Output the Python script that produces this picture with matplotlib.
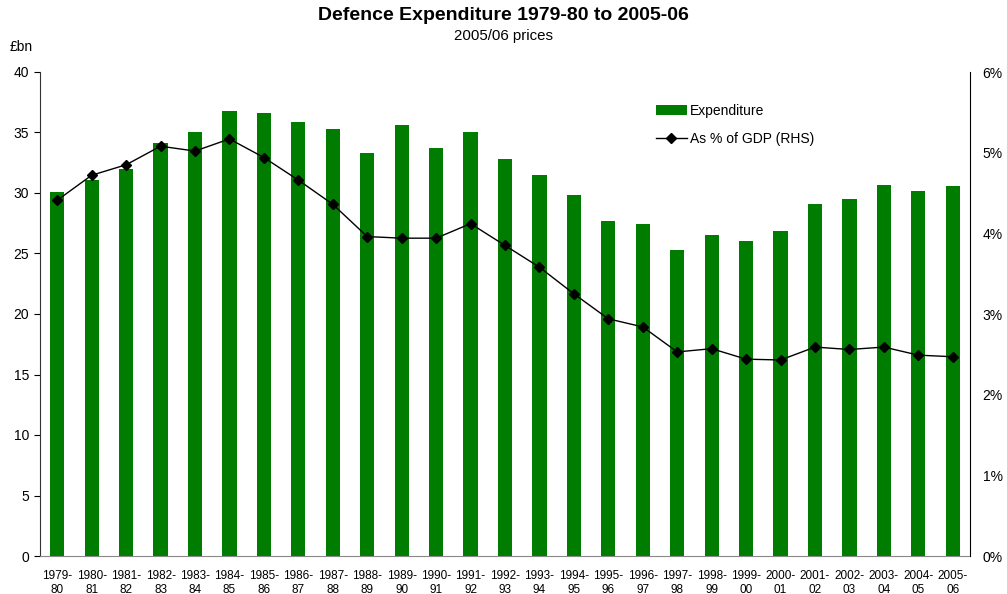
import matplotlib
matplotlib.use("Agg")
import matplotlib.pyplot as plt
from matplotlib.ticker import FuncFormatter

plt.rcParams['font.family'] = ['Liberation Sans', 'DejaVu Sans']

years = ["1979-\n80", "1980-\n81", "1981-\n82", "1982-\n83", "1983-\n84", "1984-\n85",
         "1985-\n86", "1986-\n87", "1987-\n88", "1988-\n89", "1989-\n90", "1990-\n91",
         "1991-\n92", "1992-\n93", "1993-\n94", "1994-\n95", "1995-\n96", "1996-\n97",
         "1997-\n98", "1998-\n99", "1999-\n00", "2000-\n01", "2001-\n02", "2002-\n03",
         "2003-\n04", "2004-\n05", "2005-\n06"]
expenditure = [30.1, 31.1, 32.0, 34.1, 35.0, 36.8, 36.6, 35.9, 35.3, 33.3, 35.6, 33.7,
               35.0, 32.8, 31.5, 29.8, 27.7, 27.4, 25.3, 26.5, 26.0, 26.9, 29.1, 29.5,
               30.7, 30.2, 30.6]
gdp_pct = [4.41, 4.72, 4.85, 5.08, 5.02, 5.17, 4.94, 4.66, 4.36, 3.96, 3.94, 3.94,
           4.12, 3.85, 3.58, 3.25, 2.94, 2.84, 2.53, 2.57, 2.44, 2.43, 2.59, 2.56,
           2.59, 2.49, 2.47]

fig = plt.figure(figsize=(10.07, 5.94), dpi=100)
ax = fig.add_axes([40/1007, 1-556/594, 930/1007, 484/594])
x = list(range(len(years)))
bars = ax.bar(x, expenditure, width=0.41, color='#007d00', label='Expenditure', zorder=2)
ax.set_xlim(-0.5, len(years)-0.5)
ax.set_ylim(0, 40)
ax.set_yticks(range(0, 41, 5))
ax.set_xticks(x)
ax.set_xticklabels(years, fontsize=8.5, linespacing=1.2)
ax.tick_params(axis='x', length=0, pad=10)
ax.tick_params(axis='y', length=4, labelsize=10, direction='out', pad=4)
ax.spines['top'].set_visible(False)
ax.spines['right'].set_visible(False)
ax.spines['bottom'].set_color('#888888')
ax.spines['left'].set_color('#333333')

ax2 = ax.twinx()
line, = ax2.plot(x, gdp_pct, color='black', linewidth=1.0, marker='D', markersize=5,
                 label='As % of GDP (RHS)', zorder=3)
ax2.set_ylim(0, 6)
ax2.set_yticks(range(0, 7))
ax2.yaxis.set_major_formatter(FuncFormatter(lambda v, p: f"{int(v)}%"))
ax2.tick_params(axis='y', length=0, labelsize=10, pad=9)
ax2.spines['top'].set_visible(False)
ax2.spines['left'].set_visible(False)
ax2.spines['bottom'].set_visible(False)
ax2.spines['right'].set_color('black')

leg = ax2.legend([bars, line], ['Expenditure', 'As % of GDP (RHS)'], loc='upper left',
                 bbox_to_anchor=(0.649, 0.96), frameon=False, fontsize=10,
                 labelspacing=1.0, handlelength=2.2, handletextpad=0.25)

fig.text(0.5, 1-15/594, 'Defence Expenditure 1979-80 to 2005-06', ha='center', va='center',
         fontsize=14, fontweight='bold')
fig.text(0.5, 1-36/594, '2005/06 prices', ha='center', va='center', fontsize=10.8)
fig.text(10/1007, 1-47/594, '£bn', ha='left', va='center', fontsize=10)

fig.savefig('out.png', dpi=100)
